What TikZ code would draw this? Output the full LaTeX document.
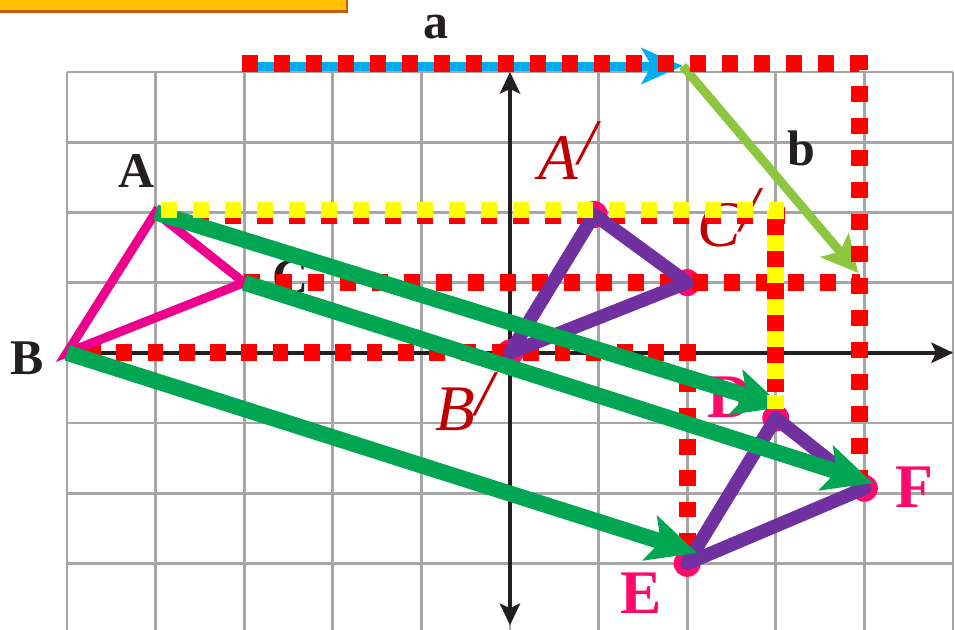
\documentclass[tikz,border=0pt]{standalone}
\usepackage{fontspec}
\setmainfont{Liberation Serif}
\usetikzlibrary{arrows.meta}
\definecolor{gridgray}{HTML}{A6A6A6}
\definecolor{boxorange}{HTML}{FFC000}
\definecolor{boxedge}{HTML}{C55A11}
\definecolor{labelblack}{HTML}{231F20}
\definecolor{dotpink}{HTML}{FF0A6C}
\definecolor{magtri}{HTML}{EC008C}
\definecolor{purptri}{HTML}{7030A0}
\definecolor{bigarrowgreen}{HTML}{00A651}
\definecolor{vecgreen}{HTML}{8DC63F}
\definecolor{vecblue}{HTML}{00AEEF}
\definecolor{primered}{HTML}{C00000}
\definecolor{dotred}{HTML}{FF0000}
\definecolor{dotyellow}{HTML}{FFFF00}
\begin{document}
\begin{tikzpicture}[x=1.772cm,y=1.404cm,
  gridline/.style={draw=gridgray, line width=1.5pt},
  axisline/.style={draw=labelblack, line width=2pt},
  axistip/.tip={Stealth[length=0.44cm,width=0.42cm,inset=0.1cm,line width=0pt]},
  lblk/.style={font=\fontsize{28.4}{30}\selectfont\bfseries, text=labelblack, inner sep=0pt, anchor=base west},
  lpink/.style={font=\fontsize{35.3}{38}\selectfont\bfseries, text=dotpink, inner sep=0pt, anchor=base west},
  lred/.style={font=\fontsize{37}{40}\selectfont\itshape, text=primered, inner sep=0pt, anchor=base west},
  reddots/.style={draw=dotred, line width=0.34cm, dash pattern=on 0.32cm off 0.32cm},
  yellowdots/.style={draw=dotyellow, line width=0.34cm, dash pattern=on 0.32cm off 0.32cm},
  vertexdot/.style={fill=dotpink},
  pinktri/.style={draw=magtri, line width=0.18cm},
  purpletri/.style={draw=purptri, line width=0.27cm, line join=round},
  bigarrow/.style={draw=bigarrowgreen, line width=0.32cm,
    -{Stealth[length=1cm,width=0.96cm,inset=0.24cm,line width=0pt]}},
  veca/.style={draw=vecblue, line width=0.18cm,
    -{Stealth[length=0.84cm,width=0.74cm,inset=0.22cm,line width=0pt]}},
  vecb/.style={draw=vecgreen, line width=0.18cm,
    -{Stealth[length=0.74cm,width=0.76cm,inset=0.18cm,line width=0pt]}}
]
\useasboundingbox (-5.7562,-3.9487) rectangle (5.0226,5.0256);

% orange box at top left
\draw[fill=boxorange, draw=boxedge, line width=0.05cm] (-5.9,5.2) rectangle (-1.838,4.862);

% grid
\foreach \i in {-5,...,5} \draw[gridline] (\i,-3.95) -- (\i,4);
\foreach \j in {-3,...,4} \draw[gridline] (-5,\j) -- (5,\j);

% points
\coordinate (A) at (-4,2);
\coordinate (B) at (-5,0);
\coordinate (C) at (-3,1);
\coordinate (Ap) at (0.95,1.97);
\coordinate (Bp) at (0,0);
\coordinate (Cp) at (2,1);
\coordinate (D) at (3,-0.93);
\coordinate (E) at (2,-3);
\coordinate (F) at (4,-1.93);
\coordinate (Dt) at (3.081,-0.772);
\coordinate (Et) at (2.111,-2.852);
\coordinate (Ft) at (4.097,-1.855);
\coordinate (a0) at (-3.02,4.085);
\coordinate (a1) at (1.95,4.085);
\coordinate (b1) at (3.93,1.137);

% axes
\coordinate (xr) at (5,0);
\coordinate (yb) at (0,-3.88);
\coordinate (yt) at (0,4);
\draw[axisline, -axistip] (B) -- (xr);
\draw[axisline, axistip-axistip] (yb) -- (yt);

% labels
\node[lblk] (lA) at (-4.424,2.348) {A};
\node[lblk] (lB) at (-5.643,-0.316) {B};
\node[lblk] (lC) at (-2.686,0.838) {C};
\node[lblk] (la) at (-0.982,4.484) {a};
\node[lblk] (lb) at (3.126,2.675) {b};
\node[lred] (lAp) at (0.316,2.462) {A\raisebox{0.23em}{/}};
\node[lred] (lBp) at (-0.846,-1.100) {B\raisebox{0.23em}{/}};
\node[lred] (lCp) at (2.111,1.521) {C\raisebox{0.23em}{/}};
\node[lpink] (lD) at (2.223,-0.915) {D};
\node[lpink] (lE) at (1.242,-3.707) {E};
\node[lpink] (lF) at (4.345,-2.197) {F};

% translation vectors a and b
\draw[veca] (a0) -- (a1);
\draw[vecb] (a1) -- (b1);

% vertex dots
\foreach \p in {Ap,Bp,Cp,D,E,F} \fill[vertexdot] (\p) circle[radius=0.27cm];

% red dotted guide lines
\draw[reddots] (-3.02,4.123) -- (3.95,4.123) -- (3.95,-1.93);
\draw[reddots] (C) -- (3.95,1);
\draw[reddots, dash pattern=on 0.313cm off 0.313cm] ([xshift=0.36cm]B) -- (2,0) -- (2,-2.91);
\draw[reddots] (-3.578,1.956) -- (3.104,1.956);
\draw[draw=dotred, line width=0.34cm] (3,1.963) -- (3,-0.558);

% triangles
\draw[pinktri] (A) -- (B) -- (C) -- cycle;
\draw[purpletri] (Ap) -- (Bp) -- (Cp) -- cycle;
\draw[purpletri] (D) -- (E) -- (F) -- cycle;

% big translation arrows
\draw[bigarrow] (A) -- (Dt);
\draw[bigarrow] (C) -- (Ft);
\draw[bigarrow] (B) -- (Et);

% yellow dotted guide
\draw[yellowdots] (-3.939,2.034) -- (3,2.034) -- (3,-0.806);
\end{tikzpicture}
\end{document}
